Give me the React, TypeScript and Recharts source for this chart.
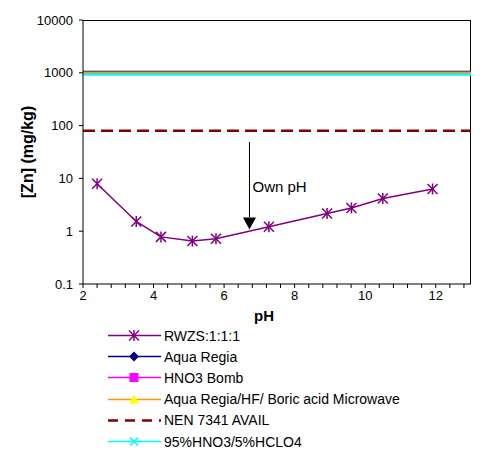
import React from 'react';
import { LineChart, Line, XAxis, YAxis, ReferenceLine, Legend, Label } from 'recharts';

// pH of the leaching steps and the Zn found at each one
const PH_RWZS = [2.4, 3.51, 4.21, 5.1, 5.77, 7.27, 8.92, 9.61, 10.5, 11.91];
const ZN_RWZS = [7.9, 1.53, 0.78, 0.65, 0.72, 1.21, 2.16, 2.76, 4.16, 6.3];

// total contents, drawn across the whole pH range
const PH_SPAN = [2, 13];
const ZN_AQUA_REGIA = [1050, 1050];
const ZN_HNO3_BOMB = [960, 960];
const ZN_AR_HF_BORIC = [1010, 1010];
const ZN_NEN_7341 = [80, 80];
const ZN_HNO3_HCLO4 = [930, 930];

// "Own pH" arrow
const OWN_PH = 6.72;
const ARROW_TOP = 49;
const ARROW_TIP = 1.08;

const X_MIN = 2;
const X_MAX = 13;
const Y_MIN = 0.1;
const Y_MAX = 10000;

const X_LABELS = [2, 4, 6, 8, 10, 12];
const X_TICKS = [2, 2.4, 2.8, 3.2, 3.6, 4, 4.4, 4.8, 5.2, 5.6, 6, 6.4, 6.8, 7.2, 7.6, 8, 8.4, 8.8, 9.2, 9.6, 10, 10.4, 10.8, 11.2, 11.6, 12, 12.4, 12.8];
const Y_TICKS = [0.1, 1, 10, 100, 1000, 10000];

const toPoints = (xs: number[], ys: number[]) => xs.map((x, i) => ({ x, y: ys[i] }));

// top and right edges of the plot-area border
const FRAME = [
  { x: X_MIN, y: Y_MAX },
  { x: X_MAX, y: Y_MAX },
  { x: X_MAX, y: Y_MIN },
];

type MarkerType = 'star' | 'diamond' | 'square' | 'triangle' | 'cross' | 'none';

const SERIES = [
  { name: 'RWZS:1:1:1', data: toPoints(PH_RWZS, ZN_RWZS), color: '#800080', width: 1.5, dash: undefined, marker: 'star' as MarkerType, fill: '#800080' },
  { name: 'Aqua Regia', data: toPoints(PH_SPAN, ZN_AQUA_REGIA), color: '#000080', width: 2, dash: undefined, marker: 'diamond' as MarkerType, fill: '#000080' },
  { name: 'HNO3 Bomb', data: toPoints(PH_SPAN, ZN_HNO3_BOMB), color: '#FF00FF', width: 2, dash: undefined, marker: 'square' as MarkerType, fill: '#FF00FF' },
  { name: 'Aqua Regia/HF/ Boric acid Microwave', data: toPoints(PH_SPAN, ZN_AR_HF_BORIC), color: '#FF9900', width: 2, dash: undefined, marker: 'triangle' as MarkerType, fill: '#FFFF00' },
  { name: 'NEN 7341 AVAIL', data: toPoints(PH_SPAN, ZN_NEN_7341), color: '#800000', width: 2.5, dash: '12 6', marker: 'none' as MarkerType, fill: '#800000' },
  { name: '95%HNO3/5%HCLO4', data: toPoints(PH_SPAN, ZN_HNO3_HCLO4), color: '#00FFFF', width: 2.5, dash: undefined, marker: 'cross' as MarkerType, fill: '#00FFFF' },
];

const Marker = ({ type, cx, cy, color, fill }: { type: MarkerType; cx: number; cy: number; color: string; fill: string }) => {
  const r = 5;
  switch (type) {
    case 'star':
      return (
        <g stroke={color} strokeWidth={1.5}>
          <line x1={cx - r} y1={cy - r} x2={cx + r} y2={cy + r} />
          <line x1={cx - r} y1={cy + r} x2={cx + r} y2={cy - r} />
          <line x1={cx} y1={cy - r - 0.5} x2={cx} y2={cy + r + 0.5} />
        </g>
      );
    case 'diamond':
      return <polygon points={`${cx},${cy - r} ${cx + r},${cy} ${cx},${cy + r} ${cx - r},${cy}`} fill={fill} />;
    case 'square':
      return <rect x={cx - 4.5} y={cy - 4.5} width={9} height={9} fill={fill} />;
    case 'triangle':
      return <polygon points={`${cx},${cy - r} ${cx + r},${cy + 4} ${cx - r},${cy + 4}`} fill={fill} />;
    case 'cross':
      return (
        <g stroke={color} strokeWidth={1.5}>
          <line x1={cx - 4} y1={cy - 4} x2={cx + 4} y2={cy + 4} />
          <line x1={cx - 4} y1={cy + 4} x2={cx + 4} y2={cy - 4} />
        </g>
      );
    default:
      return null;
  }
};

// only every 2 pH units gets a number; the 0.4 steps get a bare tick mark
const XTick = (props: any) => {
  const { x, y, payload } = props;
  if (!X_LABELS.includes(payload.value)) return null;
  return (
    <text x={x} y={y} dy={9.5} textAnchor="middle" fontSize={13} fill="#000">
      {payload.value}
    </text>
  );
};

const ArrowShape = (props: any) => {
  const { x1, y1, x2, y2 } = props;
  const head = 12;
  return (
    <g>
      <line x1={x1} y1={y1} x2={x2} y2={y2 - head} stroke="#000" strokeWidth={1} />
      <polygon points={`${x2 - 6.5},${y2 - head} ${x2 + 6.5},${y2 - head} ${x2},${y2}`} fill="#000" />
      <text x={x1 + 3} y={y1 + 50} fontSize={15} fill="#000">Own pH</text>
    </g>
  );
};

const renderLegend = () => (
  <div style={{ fontSize: 14, color: '#000' }}>
    {SERIES.map((s) => (
      <div key={s.name} style={{ display: 'flex', alignItems: 'center', height: 21.2 }}>
        <svg width={53} height={21} style={{ display: 'block' }}>
          <line x1={0} y1={10.5} x2={53} y2={10.5} stroke={s.color} strokeWidth={s.dash ? 2.5 : 1.5} strokeDasharray={s.dash ? '10 7' : undefined} />
          <Marker type={s.marker} cx={26} cy={10.5} color={s.color} fill={s.fill} />
        </svg>
        <span style={{ marginLeft: 3, whiteSpace: 'nowrap' }}>{s.name}</span>
      </div>
    ))}
  </div>
);

const App: React.FC = () => {
  return (
    <div style={{ position: 'absolute', left: 0, top: 0, fontFamily: 'Arial, "Liberation Sans", sans-serif', background: '#fff' }}>
      <LineChart width={483} height={462} margin={{ top: 20, right: 12, left: 0, bottom: 138 }}>
        <XAxis
          dataKey="x"
          type="number"
          domain={[X_MIN, X_MAX]}
          allowDataOverflow
          ticks={X_TICKS}
          interval={0}
          height={40}
          tickSize={4}
          tick={<XTick />}
          axisLine={{ stroke: '#000' }}
          tickLine={{ stroke: '#000' }}
        >
          <Label
            content={(p: any) => {
              const vb = p.viewBox || { x: 83, y: 284, width: 388 };
              return (
                <text x={vb.x + vb.width / 2 - 13} y={vb.y + 37} textAnchor="middle" fontSize={15} fontWeight="bold" fill="#000">
                  pH
                </text>
              );
            }}
          />
        </XAxis>
        <YAxis
          type="number"
          scale="log"
          domain={[Y_MIN, Y_MAX]}
          allowDataOverflow
          ticks={Y_TICKS}
          interval={0}
          width={83}
          tickSize={4}
          tickMargin={6}
          tick={{ fontSize: 13, fill: '#000' }}
          axisLine={{ stroke: '#000' }}
          tickLine={{ stroke: '#000' }}
        >
          <Label
            content={(p: any) => {
              const vb = p.viewBox || { y: 20, height: 264 };
              const cy = vb.y + vb.height / 2;
              return (
                <text x={27} y={cy} transform={`rotate(-90 27 ${cy})`} textAnchor="middle" dominantBaseline="central" fontSize={16} fontWeight="bold" fill="#000">
                  [Zn] (mg/kg)
                </text>
              );
            }}
          />
        </YAxis>
        <Line
          data={FRAME}
          dataKey="y"
          name="frame"
          legendType="none"
          type="linear"
          stroke="#000"
          strokeWidth={2}
          dot={false}
          activeDot={false}
          isAnimationActive={false}
        />
        {SERIES.map((s) => (
          <Line
            key={s.name}
            data={s.data}
            dataKey="y"
            name={s.name}
            type="linear"
            stroke={s.color}
            strokeWidth={s.width}
            strokeDasharray={s.dash}
            dot={s.marker === 'star' ? (p: any) => <Marker key={p.index} type="star" cx={p.cx} cy={p.cy} color={s.color} fill={s.fill} /> : false}
            activeDot={false}
            isAnimationActive={false}
          />
        ))}
        <ReferenceLine
          segment={[{ x: OWN_PH, y: ARROW_TOP }, { x: OWN_PH, y: ARROW_TIP }]}
          shape={ArrowShape}
        />
        <Legend
          layout="vertical"
          align="center"
          verticalAlign="middle"
          wrapperStyle={{ left: 108, top: 325 }}
          content={renderLegend}
        />
      </LineChart>
    </div>
  );
};

export default App;
